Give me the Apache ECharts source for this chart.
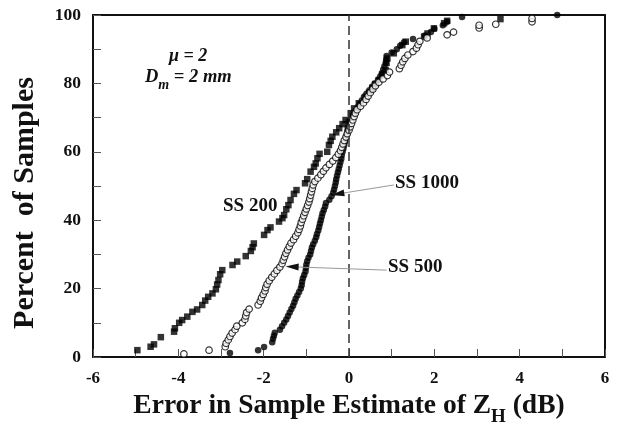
<!DOCTYPE html>
<html><head><meta charset="utf-8">
<script src="https://cdn.jsdelivr.net/npm/echarts@6/dist/echarts.min.js"></script>
<style>html,body{margin:0;padding:0;background:#fff}#c{width:621px;height:423px}</style>
</head><body><div id="c"></div>
<script>
// SS 200 (filled squares)
const ss200X = [-4.96,-4.65,-4.57,-4.41,-4.10,-4.08,-3.98,-3.91,-3.79,-3.67,-3.56,-3.44,-3.37,-3.30,-3.20,-3.12,-3.09,-3.06,-3.02,-2.97,-2.73,-2.62,-2.42,-2.30,-2.26,-2.23,-1.99,-1.91,-1.84,-1.64,-1.56,-1.52,-1.47,-1.42,-1.37,-1.29,-1.23,-1.03,-0.98,-0.90,-0.82,-0.78,-0.74,-0.69,-0.51,-0.47,-0.43,-0.39,-0.30,-0.23,-0.15,-0.08,0.04,0.12,0.23,0.39,0.47,0.55,0.62,0.70,0.78,0.86,0.88,0.90,1.05,1.25,1.33,1.76,1.84,1.99,2.23,2.30,3.55];
const ss200P = [2.0,3.0,3.7,5.8,7.4,8.4,10.0,10.8,11.8,13.2,13.9,15.2,16.5,17.6,18.6,19.8,21.2,22.5,24.2,25.4,26.9,27.9,29.5,31.0,32.1,33.2,35.7,37.1,37.9,39.6,40.6,41.5,43.2,44.4,45.9,47.7,48.8,50.8,52.0,54.2,55.6,56.6,58.1,59.4,60.0,62.0,63.2,64.4,65.7,66.9,68.1,69.3,71.3,72.7,74.2,76.1,77.3,78.6,79.8,81.0,82.5,83.9,86.0,87.3,88.8,91.2,92.2,93.7,94.6,96.1,97.6,98.3,98.8];
// SS 500 (open circles)
const ss500X = [-3.87,-3.28,-2.90,-2.88,-2.83,-2.79,-2.74,-2.67,-2.63,-2.50,-2.44,-2.42,-2.40,-2.34,-2.13,-2.08,-2.05,-2.01,-1.97,-1.95,-1.92,-1.87,-1.81,-1.75,-1.69,-1.62,-1.57,-1.54,-1.51,-1.48,-1.44,-1.40,-1.36,-1.30,-1.25,-1.20,-1.17,-1.14,-1.12,-1.09,-1.06,-1.03,-1.00,-0.97,-0.94,-0.92,-0.90,-0.88,-0.86,-0.84,-0.80,-0.73,-0.66,-0.60,-0.54,-0.46,-0.38,-0.31,-0.25,-0.20,-0.17,-0.14,-0.11,-0.07,-0.04,0.00,0.03,0.06,0.09,0.12,0.15,0.19,0.27,0.34,0.40,0.45,0.50,0.56,0.62,0.70,0.80,0.90,0.95,1.18,1.22,1.26,1.31,1.38,1.50,1.58,1.62,1.66,1.83,2.30,2.45,3.05,3.05,3.44,4.29,4.29];
const ss500P = [0.9,2.0,3.0,4.0,5.0,6.0,7.0,8.0,9.0,10.0,11.0,12.0,13.0,14.0,15.2,16.3,17.3,18.3,19.3,20.3,21.3,22.3,23.3,24.3,25.3,26.3,27.3,28.3,29.3,30.3,31.3,32.3,33.3,34.3,35.3,36.3,37.3,38.3,39.3,40.3,41.3,42.3,43.3,44.3,45.3,46.3,47.3,48.3,49.3,50.3,51.3,52.3,53.3,54.3,55.3,56.3,57.3,58.3,59.3,60.3,61.3,62.3,63.3,64.3,65.3,66.3,67.3,68.3,69.3,70.3,71.3,72.3,73.3,74.3,75.3,76.3,77.3,78.3,79.3,80.3,81.3,82.3,83.3,84.3,85.3,86.3,87.3,88.3,89.3,90.3,91.3,92.3,93.3,94.2,95.0,96.2,97.0,97.3,98.0,99.0];
// SS 1000 (filled circles)
const ss1000X = [-2.79,-2.13,-1.99,-1.80,-1.78,-1.76,-1.74,-1.62,-1.57,-1.52,-1.47,-1.43,-1.39,-1.35,-1.31,-1.28,-1.25,-1.21,-1.17,-1.13,-1.11,-1.10,-1.08,-1.05,-1.02,-1.01,-1.00,-0.98,-0.95,-0.91,-0.89,-0.87,-0.84,-0.80,-0.77,-0.75,-0.72,-0.70,-0.68,-0.66,-0.64,-0.62,-0.59,-0.56,-0.54,-0.46,-0.41,-0.37,-0.35,-0.33,-0.31,-0.30,-0.28,-0.26,-0.24,-0.22,-0.20,-0.18,-0.17,-0.15,-0.13,-0.11,-0.09,-0.07,-0.05,-0.04,-0.03,-0.01,0.00,0.05,0.10,0.15,0.20,0.25,0.30,0.35,0.41,0.48,0.54,0.60,0.68,0.73,0.77,0.80,0.83,0.86,0.87,0.88,1.00,1.12,1.20,1.29,1.50,1.78,1.92,2.00,2.20,2.30,2.65,4.88];
const ss1000P = [1.2,2.0,2.9,4.3,5.3,6.2,7.1,8,9,10,11,12,13,14,15,16,17,18,19,20,21,22,23,24,25,26,27,28,29,30,31,32,33,34,35,36,37,38,39,40,41,42,43,44,45,46,47,48,49,50,51,52,53,54,55,56,57,58,59,60,61,62,63,64,65,66,67,68,69,70,71,72,73,74,75,76,77,78,79,80,81,82,83,84,85,86,87,88,89,90,91,92,93,94,95,96,97,98,99.4,100];
const xLabelTicks = [-6,-4,-2,0,2,4,6];
const yLabelTicks = [0,20,40,60,80,100];

const zip = (xs, ps) => xs.map((x, i) => [x, ps[i]]);
const serif = '"Liberation Serif", "DejaVu Serif", serif';
const chart = echarts.init(document.getElementById('c'), null, {renderer: 'canvas'});

const axisLineStyle = {color: '#111', width: 2};
const arrowHead = (coord, rot, off) => ({
  coord: coord, symbol: 'triangle', symbolSize: [7, 13], symbolRotate: rot, symbolOffset: off,
  itemStyle: {color: '#111'}, label: {show: false}
});
chart.setOption({
  animation: false,
  backgroundColor: '#fff',
  grid: {left: 93, right: 16, top: 15, bottom: 66, outerBoundsMode: 'none', containLabel: false},
  xAxis: [{
    type: 'value', min: -6, max: 6, interval: 1,
    axisLine: {show: true, onZero: false, lineStyle: axisLineStyle},
    axisTick: {show: true, inside: true, length: 8, lineStyle: {color: '#555', width: 1}},
    splitLine: {show: false},
    axisLabel: {
      margin: 13, color: '#111', fontFamily: serif, fontWeight: 'bold', fontSize: 17,
      formatter: v => xLabelTicks.includes(v) ? String(v) : ''
    },
    name: 'Error in Sample Estimate of Z{s|H} (dB)',
    nameLocation: 'middle', nameGap: 28,
    nameTextStyle: {
      color: '#111', fontFamily: serif, fontWeight: 'bold', fontSize: 27.5,
      rich: {s: {fontFamily: serif, fontWeight: 'bold', fontSize: 19, verticalAlign: 'bottom', padding: [0, 0, -7, 0]}}
    }
  }, {
    type: 'value', min: -6, max: 6, position: 'top',
    axisLine: {show: true, onZero: false, lineStyle: axisLineStyle},
    axisTick: {show: false}, axisLabel: {show: false}, splitLine: {show: false}
  }],
  yAxis: [{
    type: 'value', min: 0, max: 100, interval: 10,
    axisLine: {show: true, onZero: false, lineStyle: axisLineStyle},
    axisTick: {show: true, inside: true, length: 8, lineStyle: {color: '#555', width: 1}},
    splitLine: {show: false},
    axisLabel: {
      margin: 12, color: '#111', fontFamily: serif, fontWeight: 'bold', fontSize: 17.5,
      formatter: v => yLabelTicks.includes(v) ? String(v) : ''
    }
  }, {
    type: 'value', min: 0, max: 100, position: 'right',
    axisLine: {show: true, onZero: false, lineStyle: axisLineStyle},
    axisTick: {show: false}, axisLabel: {show: false}, splitLine: {show: false}
  }],
  series: [
    {
      name: 'SS 200', type: 'scatter', symbol: 'rect', symbolSize: 6.5,
      itemStyle: {color: '#000'}, data: zip(ss200X, ss200P), z: 2,
      markLine: {
        silent: true, symbol: ['none', 'none'], label: {show: false},
        lineStyle: {color: '#333', type: [9, 5], width: 1.5},
        data: [{xAxis: 0}]
      }
    },
    {
      name: 'SS 1000', type: 'scatter', symbol: 'circle', symbolSize: 6.5,
      itemStyle: {color: '#000'}, data: zip(ss1000X, ss1000P), z: 3,
      markLine: {
        silent: true, symbol: ['none', 'none'], label: {show: false},
        lineStyle: {color: '#999', type: 'solid', width: 1},
        data: [[{coord: [-0.30, 47.6]}, {coord: [1.05, 50.3]}]]
      },
      markPoint: {silent: true, data: [arrowHead([-0.38, 47.4], 99, [5, -1])]}
    },
    {
      name: 'SS 500', type: 'scatter', symbol: 'circle', symbolSize: 6.5,
      itemStyle: {color: '#fff', borderColor: '#000', borderWidth: 1.2}, data: zip(ss500X, ss500P), z: 4,
      markLine: {
        silent: true, symbol: ['none', 'none'], label: {show: false},
        lineStyle: {color: '#999', type: 'solid', width: 1},
        data: [[{coord: [-1.40, 26.4]}, {coord: [0.88, 25.4]}]]
      },
      markPoint: {silent: true, data: [arrowHead([-1.45, 26.4], 88, [5, 0])]}
    }
  ],
  graphic: [
    {type: 'text', x: 25, y: 203, rotation: Math.PI / 2, style: {
      text: 'Percent  of Samples', fill: '#111', font: 'bold 30px ' + serif,
      align: 'center', verticalAlign: 'middle'
    }},
    {type: 'text', left: 169, top: 47, style: {text: 'μ = 2', fill: '#111', font: 'italic bold 18px ' + serif}},
    {type: 'text', left: 145, top: 68, style: {
      text: 'D{s|m} = 2 mm', fill: '#111', font: 'italic bold 18.5px ' + serif,
      rich: {s: {font: 'italic bold 14px ' + serif, verticalAlign: 'bottom', padding: [0,0,-5,0]}}
    }},
    {type: 'text', left: 223, top: 197, style: {text: 'SS 200', fill: '#111', font: 'bold 19px ' + serif}},
    {type: 'text', left: 395, top: 174, style: {text: 'SS 1000', fill: '#111', font: 'bold 19px ' + serif}},
    {type: 'text', left: 388, top: 258, style: {text: 'SS 500', fill: '#111', font: 'bold 19px ' + serif}}
  ]
});
</script>
</body></html>
